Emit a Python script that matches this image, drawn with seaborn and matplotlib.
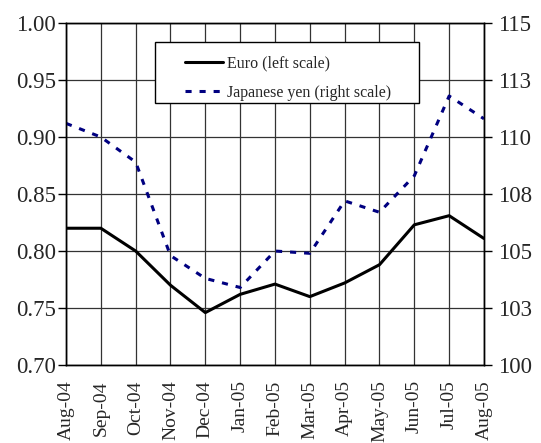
import numpy as np
import pandas as pd
import seaborn as sns
import matplotlib.pyplot as plt
from matplotlib.patches import Rectangle

months = ["Aug-04", "Sep-04", "Oct-04", "Nov-04", "Dec-04", "Jan-05", "Feb-05",
          "Mar-05", "Apr-05", "May-05", "Jun-05", "Jul-05", "Aug-05"]
euro = [0.820, 0.820, 0.800, 0.770, 0.746, 0.762, 0.771, 0.760, 0.772, 0.788, 0.823, 0.831, 0.811]
yen = [110.6, 110.0, 108.9, 104.8, 103.8, 103.4, 105.0, 104.9, 107.2, 106.7, 108.3, 111.8, 110.8]
left_ticks = [0.70, 0.75, 0.80, 0.85, 0.90, 0.95, 1.00]
right_ticks = [100, 102.5, 105, 107.5, 110, 112.5, 115]

df = pd.DataFrame({"month": months, "pos": range(len(months)), "euro": euro, "yen": yen})

sns.set_style("white")
plt.rcParams['font.family'] = ['Liberation Serif', 'DejaVu Serif']

fig, ax = plt.subplots(figsize=(5.41, 4.43), dpi=100)
fig.subplots_adjust(left=0.122, right=0.8946, top=0.948, bottom=0.176)

sns.lineplot(data=df, x="pos", y="euro", ax=ax, color="black", lw=2.2,
             label="Euro (left scale)", legend=False)
ax2 = ax.twinx()
sns.lineplot(data=df, x="pos", y="yen", ax=ax2, color="#000080", lw=2.2,
             label="Japanese yen (right scale)", legend=False)
ax2.lines[0].set_dashes((2.0, 2.6))

ax.set_xlim(0, len(months) - 1)
ax.set_ylim(0.70, 1.00)
ax2.set_ylim(100, 115)
ax.set_xticks(df["pos"])
ax.set_xticklabels(months, rotation=90, fontsize=14)
ax.set_yticks(left_ticks)
ax.set_yticklabels([f"{v:.2f}" for v in left_ticks], fontsize=16.5)
ax2.set_yticks(right_ticks)
ax2.set_yticklabels([str(int(v + 0.5)) for v in right_ticks], fontsize=16.5)
ax.set_xlabel("")
ax.set_ylabel("")
ax2.set_ylabel("")

ax.grid(True, color="#333333", lw=0.9)
ax.set_axisbelow(True)
ax.tick_params(axis="y", direction="out", length=6, width=1, color="black", pad=1)
ax.tick_params(axis="x", length=0, pad=11)
ax2.tick_params(axis="y", direction="out", length=6, width=1, color="black", pad=4)
for a in (ax, ax2):
    for s in a.spines.values():
        s.set_color("black")
        s.set_linewidth(1)

# legend box, drawn as its own frame so the padding matches
ax2.add_patch(Rectangle((0.213, 0.766), 0.632, 0.178, transform=ax2.transAxes,
                        facecolor="white", edgecolor="black", lw=1, zorder=5))
h1, l1 = ax.get_legend_handles_labels()
h2, l2 = ax2.get_legend_handles_labels()
leg = ax2.legend(h1 + h2, l1 + l2, loc="upper left", bbox_to_anchor=(0.2847, 0.906),
                 fontsize=11.5, frameon=False, handlelength=2.4, handletextpad=0.25,
                 borderpad=0, borderaxespad=0, labelspacing=0.85)
leg.set_zorder(6)

fig.savefig("out.png", dpi=100)
